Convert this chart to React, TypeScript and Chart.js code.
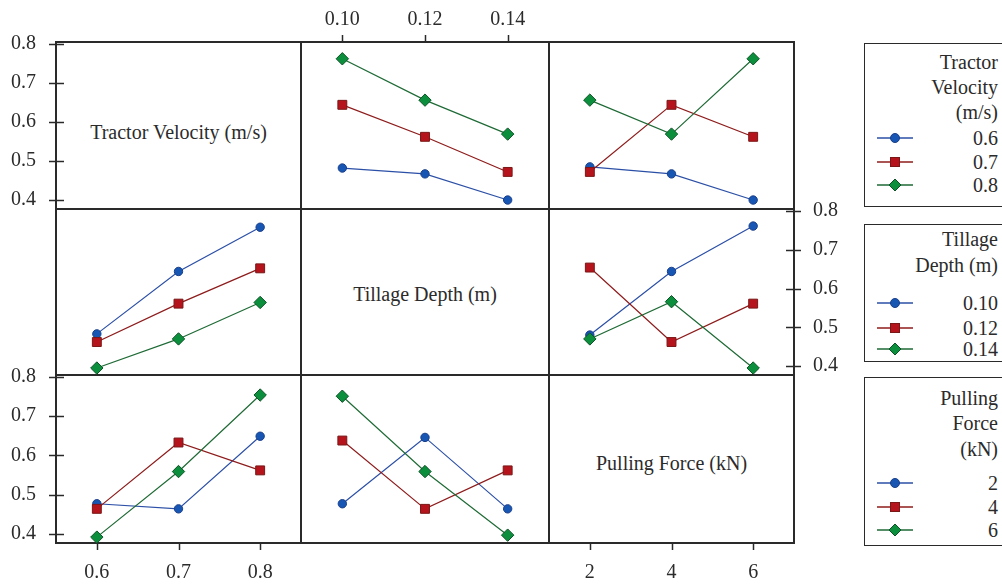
import React, { useEffect, useRef } from 'react';
import { Chart, registerables } from 'chart.js';

Chart.register(...registerables);

// ---------- factor levels / tick labels ----------
const VELOCITY = ['0.6', '0.7', '0.8'];
const DEPTH = ['0.10', '0.12', '0.14'];
const FORCE = ['2', '4', '6'];
const Y_TICKS = [0.4, 0.5, 0.6, 0.7, 0.8];
const Y_MIN = 0.377;
const Y_MAX = 0.805;

// ---------- interaction means ----------
// Row 1: traces = tractor velocity
const VEL06_BY_DEPTH = [0.482, 0.467, 0.4];
const VEL07_BY_DEPTH = [0.644, 0.562, 0.472];
const VEL08_BY_DEPTH = [0.762, 0.656, 0.569];
const VEL06_BY_FORCE = [0.485, 0.467, 0.4];
const VEL07_BY_FORCE = [0.472, 0.644, 0.562];
const VEL08_BY_FORCE = [0.656, 0.569, 0.762];
// Row 2: traces = tillage depth
const DEP10_BY_VEL = [0.483, 0.644, 0.758];
const DEP12_BY_VEL = [0.462, 0.561, 0.652];
const DEP14_BY_VEL = [0.395, 0.47, 0.564];
const DEP10_BY_FORCE = [0.48, 0.644, 0.761];
const DEP12_BY_FORCE = [0.654, 0.462, 0.561];
const DEP14_BY_FORCE = [0.47, 0.566, 0.395];
// Row 3: traces = pulling force
const F2_BY_VEL = [0.477, 0.464, 0.649];
const F4_BY_VEL = [0.464, 0.633, 0.562];
const F6_BY_VEL = [0.392, 0.559, 0.754];
const F2_BY_DEPTH = [0.477, 0.646, 0.464];
const F4_BY_DEPTH = [0.638, 0.464, 0.562];
const F6_BY_DEPTH = [0.751, 0.559, 0.397];

// ---------- styling ----------
const FONT = '"Liberation Serif", "Times New Roman", serif';
const FONT_SIZE = 20;
const TEXT = '#2b2b2b';
const AXIS = '#2a2a2a';

const STYLES = [
  { line: '#2b4fa6', fill: '#1856b4', border: '#1a3f8a', shape: 'circle', radius: 4.2 },
  { line: '#8e1b1b', fill: '#b5141c', border: '#7a1717', shape: 'rect', radius: 6.3 },
  { line: '#1e6a35', fill: '#0c8f3d', border: '#0d5226', shape: 'rectRot', radius: 6.2 },
];

const COL_X = [56, 301, 549, 794];
const ROW_Y = [42, 209, 375, 543];
const PAD = 10;
const TICK_OUT = 7;
const TICK_IN = 8;

type Spec = {
  r: number;
  c: number;
  labels: string[];
  series: number[][];
  x: 'top' | 'bottom' | null;
  y: 'left' | 'right' | null;
};

const PANELS: Spec[] = [
  { r: 0, c: 0, labels: VELOCITY, series: [], x: null, y: 'left' },
  { r: 0, c: 1, labels: DEPTH, series: [VEL06_BY_DEPTH, VEL07_BY_DEPTH, VEL08_BY_DEPTH], x: 'top', y: null },
  { r: 0, c: 2, labels: FORCE, series: [VEL06_BY_FORCE, VEL07_BY_FORCE, VEL08_BY_FORCE], x: null, y: null },
  { r: 1, c: 0, labels: VELOCITY, series: [DEP10_BY_VEL, DEP12_BY_VEL, DEP14_BY_VEL], x: null, y: null },
  { r: 1, c: 2, labels: FORCE, series: [DEP10_BY_FORCE, DEP12_BY_FORCE, DEP14_BY_FORCE], x: null, y: 'right' },
  { r: 2, c: 0, labels: VELOCITY, series: [F2_BY_VEL, F4_BY_VEL, F6_BY_VEL], x: 'bottom', y: 'left' },
  { r: 2, c: 1, labels: DEPTH, series: [F2_BY_DEPTH, F4_BY_DEPTH, F6_BY_DEPTH], x: null, y: null },
  { r: 2, c: 2, labels: FORCE, series: [], x: 'bottom', y: null },
];

const DIAG_LABELS = ['Tractor Velocity (m/s)', 'Tillage Depth (m)', 'Pulling Force (kN)'];

const LEGENDS = [
  { top: 43, bottom: 207, title: ['Tractor', 'Velocity', '(m/s)'], titleY: [62, 87, 112], items: VELOCITY, itemY: [138, 162, 185] },
  { top: 224, bottom: 362, title: ['Tillage', 'Depth (m)'], titleY: [239, 265], items: DEPTH, itemY: [303, 328, 349] },
  { top: 377, bottom: 546, title: ['Pulling', 'Force', '(kN)'], titleY: [398, 423, 449], items: FORCE, itemY: [483, 507, 530] },
];

// tick marks at the scales' own tick pixels (outside, plus inward stubs on y axes)
const tickMarks = {
  id: 'tickMarks',
  afterDraw(chart: any) {
    const ctx = chart.ctx;
    const a = chart.chartArea;
    ctx.save();
    ctx.strokeStyle = AXIS;
    ctx.lineWidth = 1.5;
    const ys = chart.scales.y;
    if (ys && ys.options.display) {
      ys.ticks.forEach((t: any) => {
        const py = Math.round(ys.getPixelForValue(t.value)) + 0.5;
        ctx.beginPath();
        if (ys.position === 'left') {
          ctx.moveTo(a.left - TICK_OUT, py);
          ctx.lineTo(a.left + TICK_IN, py);
        } else {
          ctx.moveTo(a.right - TICK_IN, py);
          ctx.lineTo(a.right + TICK_OUT, py);
        }
        ctx.stroke();
      });
    }
    const xs = chart.scales.x;
    if (xs && xs.options.display) {
      xs.ticks.forEach((_t: any, i: number) => {
        const px = Math.round(xs.getPixelForTick(i)) + 0.5;
        ctx.beginPath();
        if (xs.position === 'top') {
          ctx.moveTo(px, a.top - TICK_OUT);
          ctx.lineTo(px, a.top);
        } else {
          ctx.moveTo(px, a.bottom);
          ctx.lineTo(px, a.bottom + TICK_OUT);
        }
        ctx.stroke();
      });
    }
    ctx.restore();
  },
};

function zeroPadding(s: any) {
  s.paddingTop = 0;
  s.paddingBottom = 0;
  s.paddingLeft = 0;
  s.paddingRight = 0;
}

function Panel({ spec }: { spec: Spec }) {
  const ref = useRef<HTMLCanvasElement>(null);
  const L = spec.y === 'left' ? 56 : PAD;
  const R = spec.y === 'right' ? 60 : PAD;
  const T = spec.x === 'top' ? 42 : PAD;
  const B = spec.x === 'bottom' ? 43 : PAD;
  const pw = COL_X[spec.c + 1] - COL_X[spec.c];
  const ph = ROW_Y[spec.r + 1] - ROW_Y[spec.r];
  const left = COL_X[spec.c] - L;
  const top = ROW_Y[spec.r] - T;
  const width = pw + L + R;
  const height = ph + T + B;

  useEffect(() => {
    const font = { family: FONT, size: FONT_SIZE };
    const chart = new Chart(ref.current as HTMLCanvasElement, {
      type: 'line',
      data: {
        labels: spec.labels,
        datasets: spec.series.map((d, i) => ({
          data: d,
          borderColor: STYLES[i].line,
          borderWidth: 1.2,
          pointStyle: STYLES[i].shape as any,
          pointRadius: STYLES[i].radius,
          pointBackgroundColor: STYLES[i].fill,
          pointBorderColor: STYLES[i].border,
          pointBorderWidth: 1,
          fill: false,
          tension: 0,
          clip: false as any,
          order: 2 - i,
        })),
      },
      options: {
        animation: false,
        responsive: false,
        events: [],
        layout: {
          autoPadding: false,
          padding: {
            left: spec.y === 'left' ? 0 : PAD,
            right: spec.y === 'right' ? 0 : PAD,
            top: spec.x === 'top' ? 0 : PAD,
            bottom: spec.x === 'bottom' ? 0 : PAD,
          },
        },
        plugins: { legend: { display: false }, tooltip: { enabled: false } },
        scales: {
          x: {
            type: 'category',
            offset: true,
            display: !!spec.x,
            position: spec.x === 'top' ? 'top' : 'bottom',
            grid: { display: false, drawOnChartArea: false, drawTicks: true, tickLength: TICK_OUT },
            border: { display: false },
            ticks: { font, color: TEXT, padding: spec.x === 'top' ? 3 : 11, maxRotation: 0, autoSkip: false },
            afterFit: (s: any) => {
              zeroPadding(s);
              s.height = !spec.x ? 0 : spec.x === 'top' ? 42 : 43;
            },
          },
          y: {
            type: 'linear',
            min: Y_MIN,
            max: Y_MAX,
            display: !!spec.y,
            position: spec.y === 'right' ? 'right' : 'left',
            grid: { display: false, drawOnChartArea: false, drawTicks: true, tickLength: TICK_OUT },
            border: { display: false },
            afterBuildTicks: (s: any) => {
              s.ticks = Y_TICKS.map((v) => ({ value: v }));
            },
            ticks: { font, color: TEXT, padding: spec.y === 'right' ? 12 : 13, callback: (v: any) => Number(v).toFixed(1) },
            afterFit: (s: any) => {
              zeroPadding(s);
              s.width = !spec.y ? 0 : spec.y === 'right' ? 60 : 56;
            },
          },
        },
      },
      plugins: [tickMarks],
    } as any);
    return () => chart.destroy();
  }, []);

  return (
    <canvas
      ref={ref}
      width={width}
      height={height}
      style={{ position: 'absolute', left, top, width, height, zIndex: 2 }}
    />
  );
}

function LegendMarker({ i, cy }: { i: number; cy: number }) {
  const st = STYLES[i];
  let shape: any;
  if (st.shape === 'circle') shape = <circle cx={19} cy={8} r={4.5} fill={st.fill} stroke={st.border} strokeWidth={1} />;
  else if (st.shape === 'rect') shape = <rect x={14.5} y={3.5} width={9} height={9} fill={st.fill} stroke={st.border} strokeWidth={1} />;
  else shape = <polygon points="19,2 25,8 19,14 13,8" fill={st.fill} stroke={st.border} strokeWidth={1} />;
  return (
    <svg width={40} height={16} style={{ position: 'absolute', left: 876, top: cy - 8 }}>
      <line x1={1} y1={8} x2={37} y2={8} stroke={st.line} strokeWidth={1.4} />
      {shape}
    </svg>
  );
}

const lineStyle = { position: 'absolute' as const, background: AXIS };

export default function App() {
  const textBase = { position: 'absolute' as const, fontFamily: FONT, fontSize: FONT_SIZE, color: TEXT, lineHeight: '24px', whiteSpace: 'nowrap' as const };
  const labelShift = [-6, -10, -8];
  return (
    <div style={{ position: 'absolute', left: 0, top: 0, width: 1002, height: 586, overflow: 'hidden', background: '#fff' }}>
      {/* panel frame */}
      {ROW_Y.map((y, k) => (
        <div key={'h' + k} style={{ ...lineStyle, left: COL_X[0] - 0.75, top: y - 0.75, width: COL_X[3] - COL_X[0] + 1.5, height: 1.5 }} />
      ))}
      {COL_X.map((x, k) => (
        <div key={'v' + k} style={{ ...lineStyle, left: x - 0.75, top: ROW_Y[0] - 0.75, width: 1.5, height: ROW_Y[3] - ROW_Y[0] + 1.5 }} />
      ))}
      {/* diagonal labels */}
      {DIAG_LABELS.map((t, k) => (
        <div
          key={t}
          style={{
            ...textBase,
            left: COL_X[k],
            width: COL_X[k + 1] - COL_X[k],
            top: (ROW_Y[k] + ROW_Y[k + 1]) / 2 + labelShift[k],
            textAlign: 'center',
          }}
        >
          {t}
        </div>
      ))}
      {PANELS.map((p) => (
        <Panel key={`${p.r}-${p.c}`} spec={p} />
      ))}
      {/* legends */}
      {LEGENDS.map((lg, k) => (
        <React.Fragment key={k}>
          <div
            style={{
              position: 'absolute',
              left: 864,
              top: lg.top,
              width: 160,
              height: lg.bottom - lg.top,
              border: `1.5px solid ${AXIS}`,
              boxSizing: 'border-box',
            }}
          />
          {lg.title.map((t, j) => (
            <div key={'t' + j} style={{ ...textBase, right: 4, top: lg.titleY[j] - 12, textAlign: 'right' }}>
              {t}
            </div>
          ))}
          {lg.items.map((t, j) => (
            <React.Fragment key={'i' + j}>
              <LegendMarker i={j} cy={lg.itemY[j]} />
              <div style={{ ...textBase, right: 4, top: lg.itemY[j] - 12, textAlign: 'right' }}>{t}</div>
            </React.Fragment>
          ))}
        </React.Fragment>
      ))}
    </div>
  );
}
